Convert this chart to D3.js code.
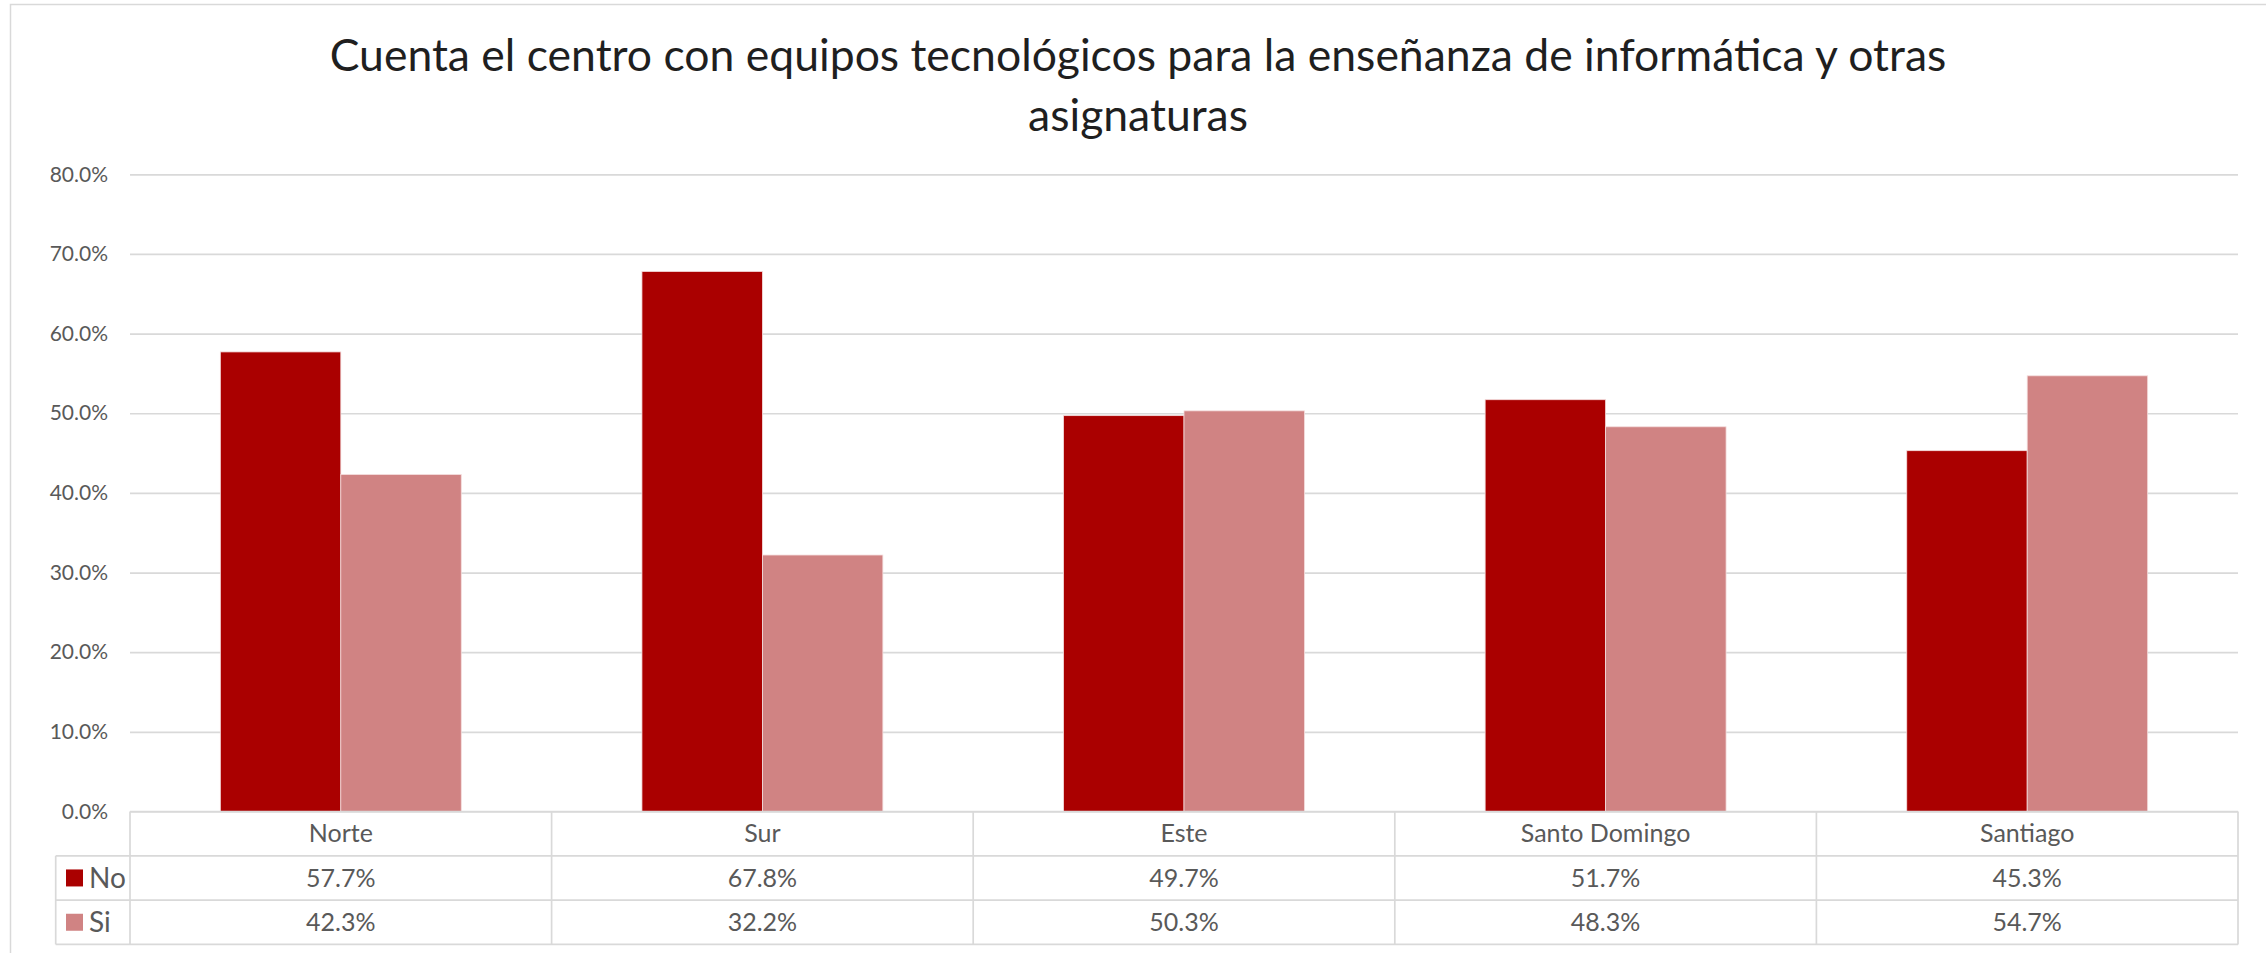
<!DOCTYPE html>
<html>
<head>
<meta charset="utf-8">
<script src="https://cdn.jsdelivr.net/npm/d3@7"></script>
<style>
  html, body { margin: 0; padding: 0; background: #fff; }
  svg { display: block; }
</style>
</head>
<body>
<svg id="chart" width="2266" height="953"></svg>
<script>
// ---- data ----
const categories = ["Norte", "Sur", "Este", "Santo Domingo", "Santiago"];
const seriesNames = ["No", "Si"];
const noValues = [57.7, 67.8, 49.7, 51.7, 45.3];
const siValues = [42.3, 32.2, 50.3, 48.3, 54.7];
const yTicks = [0, 10, 20, 30, 40, 50, 60, 70, 80];
const titleLines = ["Cuenta el centro con equipos tecnológicos para la enseñanza de informática y otras", "asignaturas"];

const seriesValues = { "No": noValues, "Si": siValues };
const colors = { "No": "#AA0000", "Si": "#D08383" };

// ---- layout ----
const W = 2266, H = 953;
const plotLeft = 130, plotRight = 2238;
const plotTop = 174.3, plotBottom = 811.5;
const font = "Lato, 'Open Sans', sans-serif";
const textColor = "#595959";
const gridColor = "#d9d9d9";

const svg = d3.select("#chart");

// chart border (left + top visible)
svg.append("path")
  .attr("d", `M10.5,${H} L10.5,4.5 L${W},4.5`)
  .attr("fill", "none").attr("stroke", gridColor).attr("stroke-width", 1.5);

// title
const titleG = svg.append("g");
const titleX = 1138;
const titleBase = [71, 131];
const measure = titleG.append("text").attr("font-family", font).attr("font-size", 100).text(titleLines[0]);
const w100 = measure.node().getComputedTextLength();
measure.remove();
const titleSize = 100 * 1617 / w100;
titleLines.forEach((t, i) => {
  titleG.append("text")
    .attr("x", titleX).attr("y", titleBase[i])
    .attr("text-anchor", "middle")
    .attr("font-family", font)
    .attr("font-size", titleSize)
    .attr("fill", "#1f1f1f")
    .text(t);
});

// scales
const x = d3.scaleBand().domain(categories).range([plotLeft, plotRight]).paddingInner(0).paddingOuter(0);
const bw = x.bandwidth();
const gap = bw * 0.75 / 3.5;
const xs = d3.scaleBand().domain(seriesNames).range([gap, bw - gap]).padding(0);
const y = d3.scaleLinear().domain([0, 80]).range([plotBottom, plotTop]);

// gridlines + y axis
const yAxis = d3.axisLeft(y)
  .tickValues(yTicks)
  .tickSize(-(plotRight - plotLeft))
  .tickPadding(22)
  .tickFormat(d => d3.format(".1f")(d) + "%");
const yg = svg.append("g").attr("transform", `translate(${plotLeft},0)`).call(yAxis);
yg.select(".domain").remove();
yg.selectAll(".tick line").attr("stroke", gridColor).attr("stroke-width", 1.7);
yg.selectAll(".tick text")
  .attr("font-family", font).attr("font-size", 21).attr("fill", textColor);

// bars
const barData = [];
categories.forEach((c, i) => seriesNames.forEach(s => barData.push({ c, s, v: seriesValues[s][i] })));
svg.append("g").selectAll("rect").data(barData).join("rect")
  .attr("x", d => x(d.c) + xs(d.s))
  .attr("width", xs.bandwidth())
  .attr("y", d => y(d.v))
  .attr("height", d => y(0) - y(d.v))
  .attr("fill", d => colors[d.s])
  .attr("stroke", "#f4dcdc").attr("stroke-width", 0.8);

// data table
const tTop = y(0);
const rowH = 44.3;
const legendLeft = 55.7;
const tBottom = tTop + rowH * 3;
const tg = svg.append("g").attr("stroke", gridColor).attr("stroke-width", 1.7).attr("fill", "none");
// horizontal lines
tg.append("line").attr("x1", plotLeft).attr("x2", plotRight).attr("y1", tTop).attr("y2", tTop);
[1, 2, 3].forEach(r => {
  tg.append("line").attr("x1", legendLeft).attr("x2", plotRight)
    .attr("y1", tTop + rowH * r).attr("y2", tTop + rowH * r);
});
// vertical lines
tg.append("line").attr("x1", legendLeft).attr("x2", legendLeft).attr("y1", tTop + rowH).attr("y2", tBottom);
categories.forEach(c => {
  tg.append("line").attr("x1", x(c)).attr("x2", x(c)).attr("y1", tTop).attr("y2", tBottom);
});
tg.append("line").attr("x1", plotRight).attr("x2", plotRight).attr("y1", tTop).attr("y2", tBottom);

// header labels
svg.append("g").selectAll("text").data(categories).join("text")
  .attr("x", d => x(d) + bw / 2)
  .attr("y", tTop + rowH / 2)
  .attr("dy", "0.35em")
  .attr("text-anchor", "middle")
  .attr("font-family", font).attr("font-size", 25).attr("fill", textColor)
  .text(d => d);

// value rows
seriesNames.forEach((s, r) => {
  const rowY = tTop + rowH * (r + 1);
  svg.append("g").selectAll("text").data(seriesValues[s]).join("text")
    .attr("x", (d, i) => x(categories[i]) + bw / 2)
    .attr("y", rowY + rowH / 2)
    .attr("dy", "0.35em")
    .attr("text-anchor", "middle")
    .attr("font-family", font).attr("font-size", 25).attr("fill", textColor)
    .text(d => d3.format(".1f")(d) + "%");
  // legend key
  svg.append("rect")
    .attr("x", 66).attr("y", rowY + rowH / 2 - 8.5)
    .attr("width", 17).attr("height", 17)
    .attr("fill", colors[s]);
  svg.append("text")
    .attr("x", 89).attr("y", rowY + rowH / 2)
    .attr("dy", "0.35em")
    .attr("font-family", font).attr("font-size", 28).attr("fill", textColor)
    .text(s);
});
</script>
</body>
</html>
